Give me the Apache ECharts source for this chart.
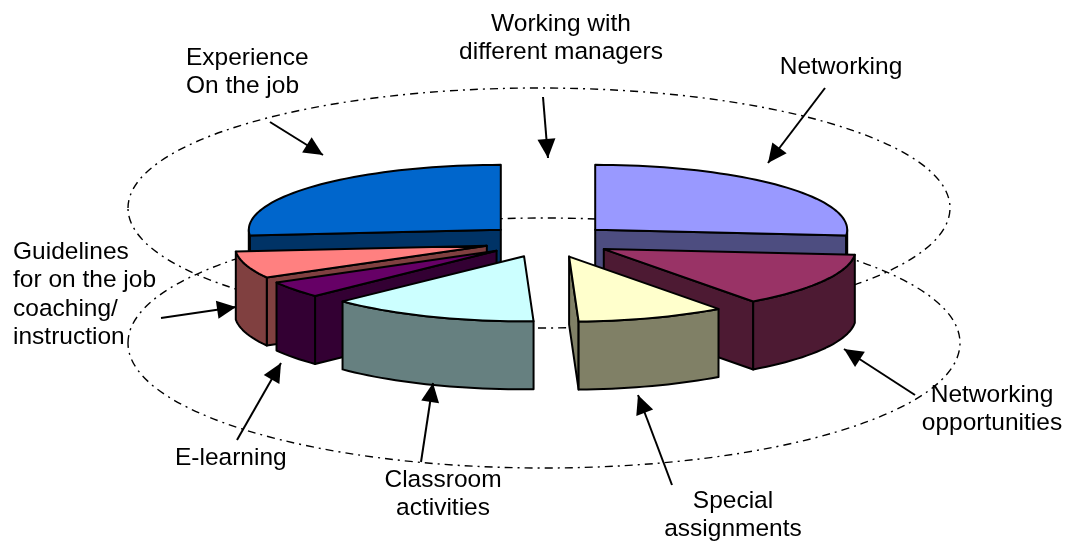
<!DOCTYPE html>
<html>
<head>
<meta charset="utf-8">
<style>
	html, body { margin: 0; padding: 0; background: #fff; }
	#chart { width: 1067px; height: 542px; }
</style>
<script src="https://cdn.jsdelivr.net/npm/echarts@6/dist/echarts.min.js"></script>
</head>
<body>
<div id="chart"></div>
<script>
// clockwise from 12 o'clock, values are share of the pie in %
var categories = ['Working with\ndifferent managers', 'Networking', 'Networking\nopportunities', 'Special\nassignments',
	'Classroom\nactivities', 'E-learning', 'Guidelines\nfor on the job\ncoaching/\ninstruction', 'Experience\nOn the job'];
var shares = [0, 26.4, 13.5, 9.5, 13.4, 4.1, 6.7, 26.4];

var topColors = ['#ffffff', '#9999ff', '#993366', '#ffffcc', '#ccffff', '#660066', '#ff8080', '#0066cc'];
var sideColors = ['#808080', '#4d4d80', '#4d1a33', '#808066', '#668080', '#330033', '#804040', '#003366'];

// pie layout
var cx = 548, cy = 241, rx = 252, ry = 65, depth = 68;
var explode = 64, tilt = ry / rx;

// label anchor [x, y of first line, align] and arrow [x1, y1, x2, y2], same order as categories
var labelPos = [[561, 24, 'center'], [841, 67, 'center'], [992, 395, 'center'], [733, 501, 'center'],
	[443, 480, 'center'], [175, 458, 'left'], [13, 252, 'left'], [186, 58, 'left']];
var arrows = [[543, 97, 548, 158], [825, 88, 768, 163], [915, 395, 844, 349], [672, 485, 638, 395],
	[421, 462, 433, 383], [237, 440, 281, 363], [161, 318, 236, 307], [270, 122, 323, 155]];

function rad(deg) {
	return deg * Math.PI / 180;
}

// build slices and sort them back to front
var total = shares.reduce(function (a, b) { return a + b; }, 0);
var slices = [];
var angle = 0;
shares.forEach(function (v, i) {
	var sweep = v / total * 360;
	if (v > 0) {
		slices.push({ index: i, value: v, start: angle, end: angle + sweep, mid: angle + sweep / 2 });
	}
	angle += sweep;
});
slices.sort(function (a, b) { return Math.cos(rad(b.mid)) - Math.cos(rad(a.mid)); });

function renderSlice(params, api) {
	var s = slices[params.dataIndex];
	var ox = cx + Math.sin(rad(s.mid)) * explode;
	var oy = cy - Math.cos(rad(s.mid)) * explode * tilt;
	var rim = function (deg, drop) {
		return [ox + Math.sin(rad(deg)) * rx, oy - Math.cos(rad(deg)) * ry + (drop || 0)];
	};
	var arc = function (from, to, drop) {
		var pts = [];
		var n = Math.max(2, Math.ceil(Math.abs(to - from) / 2));
		for (var i = 0; i <= n; i++) {
			pts.push(rim(from + (to - from) * i / n, drop));
		}
		return pts;
	};
	var poly = function (pts, fill) {
		return {
			type: 'polygon',
			shape: { points: pts },
			style: { fill: fill, stroke: '#000', lineWidth: 2, lineJoin: 'round' }
		};
	};
	var side = sideColors[s.index];
	var children = [];
	// radial walls, only the ones turned to the viewer
	[s.start, s.end].forEach(function (deg, k) {
		var sn = Math.sin(rad(deg));
		if ((k === 0 && sn < -0.001) || (k === 1 && sn > 0.001)) {
			var p = rim(deg);
			children.push(poly([[ox, oy], p, [p[0], p[1] + depth], [ox, oy + depth]], side));
		}
	});
	// outer wall, front half of the rim only
	var a = Math.max(s.start, 90), b = Math.min(s.end, 270);
	if (b > a) {
		children.push(poly(arc(a, b).concat(arc(b, a, depth)), side));
	}
	// top face
	children.push(poly([[ox, oy]].concat(arc(s.start, s.end)), topColors[s.index]));
	return { type: 'group', children: children };
}

function arrowHead(a) {
	var ang = Math.atan2(a[3] - a[1], a[2] - a[0]);
	var len = 19, half = 9;
	var bx = a[2] - Math.cos(ang) * len, by = a[3] - Math.sin(ang) * len;
	return [[a[2], a[3]],
		[bx - Math.sin(ang) * half, by + Math.cos(ang) * half],
		[bx + Math.sin(ang) * half, by - Math.cos(ang) * half]];
}

var graphics = [
	// the two dash-dot rings behind the pie
	{ type: 'ellipse', z: -1, shape: { cx: 539, cy: 208, rx: 411, ry: 120 },
		style: { fill: null, stroke: '#000', lineWidth: 1.4, lineDash: [8, 5, 2, 5] } },
	{ type: 'ellipse', z: -1, shape: { cx: 544, cy: 343, rx: 416, ry: 125 },
		style: { fill: null, stroke: '#000', lineWidth: 1.4, lineDash: [8, 5, 2, 5] } }
];

arrows.forEach(function (a) {
	graphics.push({ type: 'line', z: 10, shape: { x1: a[0], y1: a[1], x2: a[2], y2: a[3] },
		style: { stroke: '#000', lineWidth: 2 } });
	graphics.push({ type: 'polygon', z: 10, shape: { points: arrowHead(a) }, style: { fill: '#000' } });
});

categories.forEach(function (name, i) {
	name.split('\n').forEach(function (line, k) {
		graphics.push({
			type: 'text', z: 11,
			x: labelPos[i][0],
			y: labelPos[i][1] + k * 28.5,
			style: {
				text: line,
				fill: '#000',
				font: '24.5px "Liberation Sans", Arial, sans-serif',
				textAlign: labelPos[i][2],
				textVerticalAlign: 'middle'
			}
		});
	});
});

var chart = echarts.init(document.getElementById('chart'), null, { renderer: 'canvas' });
chart.setOption({
	animation: false,
	backgroundColor: '#fff',
	graphic: { elements: graphics },
	series: [{
		type: 'custom',
		coordinateSystem: 'none',
		silent: true,
		z: 2,
		renderItem: renderSlice,
		data: slices.map(function (s) { return [s.value]; })
	}]
});
</script>
</body>
</html>
